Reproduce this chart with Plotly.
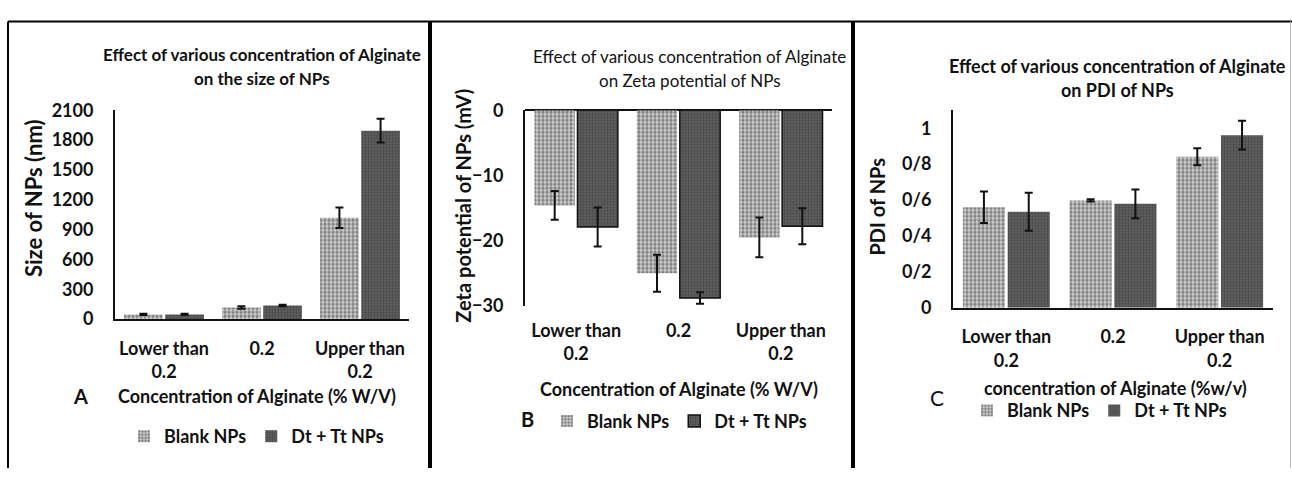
import plotly.graph_objects as go

# ---------------- data ----------------
categories = ["Lower than<br>0.2", "0.2", "Upper than<br>0.2"]
series_names = ["Blank NPs", "Dt + Tt NPs"]

size_blank = [48, 118, 1020]
size_blank_err = [7, 12, 103]
size_dt = [48, 137, 1895]
size_dt_err = [6, 8, 120]

zeta_blank = [-14.6, -25.0, -19.5]
zeta_blank_err = [2.2, 2.85, 3.05]
zeta_dt = [-17.9, -28.8, -17.8]
zeta_dt_err = [3.0, 0.9, 2.75]

pdi_blank = [0.56, 0.598, 0.841]
pdi_blank_err = [0.088, 0.006, 0.048]
pdi_dt = [0.535, 0.579, 0.961]
pdi_dt_err = [0.106, 0.08, 0.08]

size_ticks = [0, 300, 600, 900, 1200, 1500, 1800, 2100]
zeta_ticks = [0, -10, -20, -30]
pdi_ticks = [0, 0.2, 0.4, 0.6, 0.8, 1.0]
pdi_ticktext = ["0", "0/2", "0/4", "0/6", "0/8", "1"]

# ---------------- style ----------------
W, H = 1292, 478
FONT = "Lato, 'Open Sans', sans-serif"
BOLD = dict(family=FONT, size=18, color="#111111", weight="bold")
REG = dict(family=FONT, size=17, color="#111111", weight="normal")

def px(x):
    return x / W

def py(y):
    return 1 - y / H

blank_marker = dict(color="white",
                    pattern=dict(shape=".", fgcolor="#303030", bgcolor="#d2d2d2",
                                 size=4, solidity=0.55),
                    line=dict(width=0))
dt_marker = dict(color="#4a4a4a",
                 pattern=dict(shape="+", fgcolor="#2e2e2e", bgcolor="#5e5e5e",
                              size=3, solidity=0.35),
                 line=dict(width=0))
dt_marker_outline = dict(dt_marker, line=dict(width=1.5, color="#111111"))

def err(vals):
    return dict(type="data", array=vals, visible=True, color="#111111",
                thickness=2, width=4)

fig = go.Figure()

panels = [
    ("x", "y", "legend", size_blank, size_blank_err, size_dt, size_dt_err, dt_marker),
    ("x2", "y2", "legend2", zeta_blank, zeta_blank_err, zeta_dt, zeta_dt_err, dt_marker_outline),
    ("x3", "y3", "legend3", pdi_blank, pdi_blank_err, pdi_dt, pdi_dt_err, dt_marker),
]
for xa, ya, lg, b, be, d, de, dm in panels:
    fig.add_trace(go.Bar(x=categories, y=b, name=series_names[0], marker=blank_marker,
                         error_y=err(be), xaxis=xa, yaxis=ya, legend=lg))
    fig.add_trace(go.Bar(x=categories, y=d, name=series_names[1], marker=dm,
                         error_y=err(de), xaxis=xa, yaxis=ya, legend=lg))

def xaxis_cfg(x0, x1, anchor, showline=True):
    return dict(domain=[px(x0), px(x1)], anchor=anchor, showline=showline,
                linecolor="#111111", linewidth=2, ticks="", showgrid=False,
                tickfont=BOLD, ticklabelstandoff=12, fixedrange=True)

def yaxis_cfg(y_top, y_bot, anchor, rng, tickvals, ticktext=None):
    d = dict(domain=[py(y_bot), py(y_top)], anchor=anchor, range=rng, showline=True,
             linecolor="#111111", linewidth=2, ticks="", showgrid=False,
             zeroline=False, tickvals=tickvals, tickfont=BOLD,
             ticklabelstandoff=16, fixedrange=True)
    if ticktext is not None:
        d["ticktext"] = ticktext
    return d

layout = dict(
    width=W, height=H, margin=dict(l=0, r=0, t=0, b=0),
    paper_bgcolor="white", plot_bgcolor="white",
    barmode="group", bargap=0.16, bargroupgap=0.06,
    font=BOLD,
    xaxis=xaxis_cfg(115, 409, "y"),
    yaxis=yaxis_cfg(103, 322, "x", [0, 2100], size_ticks),
    xaxis2=xaxis_cfg(525, 832, "y2", showline=False),
    yaxis2=yaxis_cfg(103, 308, "x2", [-30, 0], zeta_ticks),
    xaxis3=xaxis_cfg(953, 1273, "y3"),
    yaxis3=yaxis_cfg(103, 310, "x3", [0, 1.1], pdi_ticks, pdi_ticktext),
)
layout["yaxis2"].update(zeroline=True, zerolinecolor="#111111", zerolinewidth=2)

leg_font = dict(BOLD, size=18)
leg_common = dict(orientation="h", xanchor="left", yanchor="middle",
                  font=leg_font, itemwidth=30, bgcolor="rgba(0,0,0,0)",
                  tracegroupgap=0, itemclick=False, itemdoubleclick=False)
layout["legend"] = dict(leg_common, x=px(124), y=py(445))
layout["legend2"] = dict(leg_common, x=px(547), y=py(429))
layout["legend3"] = dict(leg_common, x=px(967), y=py(418))
fig.update_layout(**layout)

# ---------------- text annotations ----------------
def ann(text, x, y, font, angle=0, xanchor="center"):
    fig.add_annotation(text=text, x=px(x), y=py(y), xref="paper", yref="paper",
                       showarrow=False, font=font, textangle=angle,
                       xanchor=xanchor, yanchor="middle")

title_b = dict(BOLD, size=17)
ann("Effect of various concentration of Alginate", 262, 45, title_b)
ann("on the size of NPs", 262, 70, title_b)
ann("Effect of various concentration of Alginate", 690, 47, dict(REG, size=17))
ann("on Zeta potential of NPs", 690, 72, dict(REG, size=17))
ann("Effect of various concentration of Alginate", 1117, 57, dict(BOLD, size=18))
ann("on PDI of NPs", 1117, 82, dict(BOLD, size=18))

ann("Concentration of Alginate (% W/V)", 257, 403, BOLD)
ann("Concentration of Alginate (% W/V)", 679, 395, BOLD)
ann("concentration of Alginate (%w/v)", 1115, 394, BOLD)

ann("Size of NPs (nm)", 33, 195, dict(BOLD, size=22), angle=-90)
ann("Zeta potential of NPs (mV)", 463, 203, dict(BOLD, size=20), angle=-90)
ann("PDI of NPs", 877, 204, dict(BOLD, size=20), angle=-90)

ann("A", 80, 403, dict(BOLD, size=20))
ann("B", 527, 427, dict(BOLD, size=20))
ann("C", 937, 404, dict(REG, size=21))

# ---------------- panel frame lines ----------------
frame = dict(type="line", xref="paper", yref="paper", line=dict(color="#000000", width=2))
fig.add_shape(frame, x0=px(8), x1=px(8), y0=py(10), y1=0)
fig.add_shape(frame, x0=px(8), x1=1, y0=py(10), y1=py(10))
fig.add_shape(dict(frame, line=dict(color="#000000", width=4)), x0=px(430), x1=px(430), y0=py(10), y1=0)
fig.add_shape(dict(frame, line=dict(color="#000000", width=4)), x0=px(853), x1=px(853), y0=py(10), y1=0)
fig.add_shape(dict(frame, line=dict(color="#bbbbbb", width=1)), x0=px(1290.5), x1=px(1290.5), y0=py(10), y1=0)

fig.write_html("out.html", config={"displayModeBar": False},
               post_script="document.body.style.margin='0';document.body.style.overflow='hidden';")
